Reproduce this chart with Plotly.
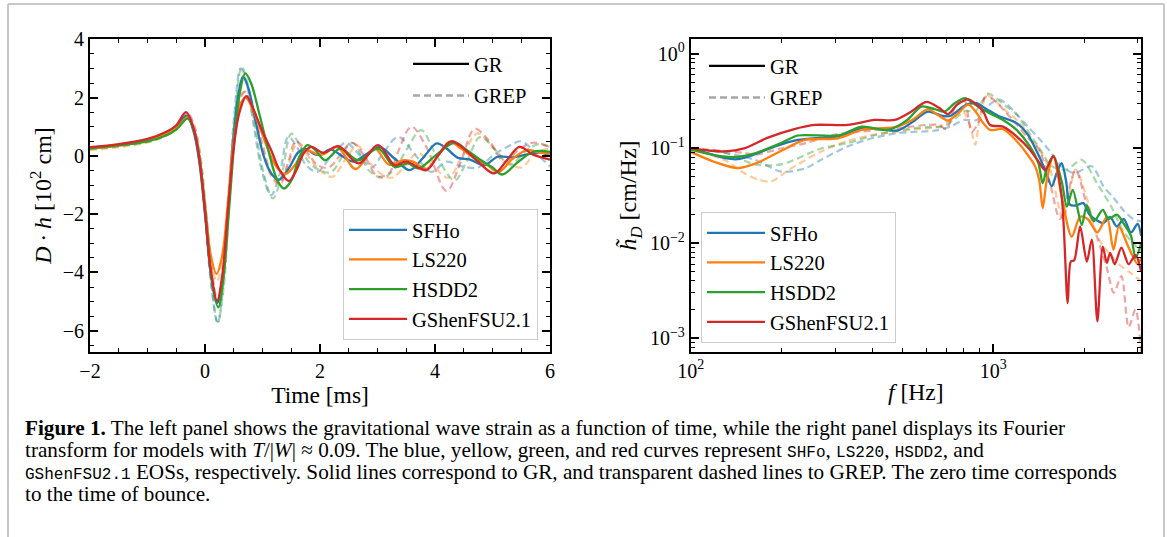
import plotly.graph_objects as go

# ---------------- data: left panel (strain vs time) ----------------
names = ["SFHo", "LS220", "HSDD2", "GShenFSU2.1"]
colors = ["#1f77b4", "#ff7f0e", "#2ca02c", "#d62728"]
colors_a = ["rgba(31,119,180,0.42)", "rgba(255,127,14,0.42)", "rgba(44,160,44,0.42)", "rgba(214,39,40,0.42)"]

t_gr_sfho = [-2, -1.5, -1, -0.7, -0.5, -0.32, -0.2, -0.1, 0.0, 0.1, 0.21, 0.3, 0.4, 0.5, 0.58, 0.66, 0.75, 0.88, 1.02, 1.15, 1.28, 1.45, 1.62, 1.74, 1.9, 2.0, 2.18, 2.38, 2.58, 2.8, 3.04, 3.3, 3.56, 3.8, 4.03, 4.2, 4.4, 4.6, 4.86, 5.09, 5.35, 5.67, 5.85, 6.0]
h_gr_sfho = [0.28, 0.38, 0.55, 0.75, 0.98, 1.38, 0.85, -0.2, -2.0, -4.0, -5.05, -4.3, -1.9, 0.7, 2.1, 2.72, 2.35, 1.2, 0.0, -0.6, -0.82, -0.45, 0.12, 0.24, 0.06, 0.03, 0.22, 0.0, -0.2, 0.05, 0.3, -0.1, -0.49, -0.05, 0.43, 0.25, -0.07, -0.12, -0.32, -0.03, -0.05, 0.08, 0.12, -0.02]

t_gr_ls220 = [-2, -1.5, -1, -0.7, -0.5, -0.3, -0.2, -0.1, 0.0, 0.1, 0.2, 0.3, 0.4, 0.5, 0.6, 0.7, 0.8, 0.95, 1.1, 1.25, 1.4, 1.55, 1.75, 1.95, 2.05, 2.3, 2.62, 2.95, 3.2, 3.45, 3.62, 3.85, 4.05, 4.25, 4.45, 4.7, 4.9, 5.1, 5.35, 5.6, 5.8, 6.0]
h_gr_ls220 = [0.25, 0.35, 0.52, 0.72, 0.95, 1.32, 0.95, 0.0, -1.7, -3.4, -4.05, -3.4, -1.6, 0.5, 1.7, 2.0, 1.75, 1.0, 0.2, -0.4, -0.62, -0.35, 0.2, 0.05, 0.05, 0.3, -0.45, 0.25, -0.3, -0.15, -0.2, -0.45, 0.0, 0.48, 0.25, -0.1, -0.3, -0.56, -0.1, 0.2, 0.12, 0.08]

t_gr_hsdd2 = [-2, -1.5, -1, -0.7, -0.5, -0.3, -0.18, -0.08, 0.02, 0.12, 0.23, 0.32, 0.42, 0.52, 0.6, 0.7, 0.8, 0.95, 1.1, 1.25, 1.37, 1.5, 1.65, 1.78, 1.92, 2.09, 2.35, 2.67, 3.01, 3.3, 3.53, 3.71, 4.0, 4.34, 4.55, 4.8, 5.0, 5.17, 5.45, 5.72, 6.0]
h_gr_hsdd2 = [0.26, 0.36, 0.5, 0.68, 0.9, 1.28, 0.8, -0.3, -2.2, -4.3, -5.2, -4.2, -1.8, 0.7, 2.1, 2.83, 2.5, 1.4, 0.2, -0.8, -1.12, -0.85, 0.0, 0.37, 0.2, -0.15, 0.25, -0.15, 0.25, -0.38, -0.26, -0.43, 0.0, 0.45, 0.2, -0.15, -0.4, -0.64, -0.2, 0.15, 0.14]

t_gr_gshen = [-2, -1.5, -1, -0.7, -0.5, -0.33, -0.2, -0.1, 0.0, 0.1, 0.21, 0.3, 0.4, 0.5, 0.6, 0.72, 0.82, 0.99, 1.15, 1.3, 1.46, 1.6, 1.72, 1.85, 2.06, 2.32, 2.67, 3.01, 3.3, 3.5, 3.85, 4.05, 4.28, 4.5, 4.75, 5.03, 5.25, 5.47, 5.7, 6.0]
h_gr_gshen = [0.3, 0.4, 0.58, 0.8, 1.05, 1.5, 0.95, -0.1, -1.9, -3.9, -4.97, -4.1, -1.8, 0.3, 1.5, 2.05, 1.7, 0.88, 0.2, -0.5, -0.86, -0.45, 0.1, 0.31, 0.1, 0.33, -0.26, 0.37, -0.32, -0.2, -0.49, 0.0, 0.5, 0.25, -0.2, -0.6, -0.15, 0.31, 0.05, -0.13]

t_ep_sfho = [-2, -1.5, -1, -0.7, -0.5, -0.3, -0.2, -0.1, 0.0, 0.1, 0.22, 0.3, 0.4, 0.5, 0.62, 0.72, 0.85, 1.0, 1.15, 1.3, 1.45, 1.6, 1.75, 1.95, 2.2, 2.45, 2.7, 2.9, 3.1, 3.36, 3.65, 3.93, 4.2, 4.45, 4.75, 5.0, 5.25, 5.5, 5.75, 6.0]
h_ep_sfho = [0.24, 0.34, 0.5, 0.7, 0.95, 1.35, 1.0, 0.0, -2.0, -4.3, -5.75, -4.8, -1.9, 1.2, 3.0, 2.5, 1.0, -0.6, -1.35, -0.6, 0.65, 0.3, -0.3, -0.55, 0.0, 0.45, 0.0, -0.4, 0.1, 0.65, 0.05, -0.55, -0.2, -0.35, -0.4, 0.0, 0.3, 0.5, 0.1, -0.37]

t_ep_ls220 = [-2, -1.5, -1, -0.7, -0.5, -0.3, -0.2, -0.1, 0.0, 0.1, 0.21, 0.3, 0.4, 0.5, 0.6, 0.7, 0.82, 1.0, 1.15, 1.3, 1.45, 1.6, 1.75, 1.95, 2.21, 2.45, 2.65, 2.85, 3.05, 3.25, 3.5, 3.7, 3.95, 4.23, 4.5, 4.74, 5.0, 5.25, 5.5, 5.75, 6.0]
h_ep_ls220 = [0.2, 0.3, 0.46, 0.66, 0.9, 1.3, 0.9, -0.05, -1.8, -3.6, -4.3, -3.6, -1.5, 0.8, 2.0, 2.2, 1.5, 0.2, -0.7, -1.0, -0.3, 0.4, 0.1, -0.4, -0.72, -0.1, 0.35, -0.2, -0.6, -0.75, -0.3, 0.1, -0.3, -0.75, 0.1, 0.77, 0.3, -0.2, -0.4, 0.1, 0.25]

t_ep_hsdd2 = [-2, -1.5, -1, -0.7, -0.5, -0.3, -0.2, -0.1, 0.0, 0.1, 0.22, 0.32, 0.42, 0.52, 0.64, 0.75, 0.88, 1.02, 1.18, 1.33, 1.5, 1.65, 1.8, 2.0, 2.2, 2.56, 2.85, 3.1, 3.35, 3.5, 3.76, 4.0, 4.34, 4.55, 4.79, 5.05, 5.3, 5.6, 5.8, 6.0]
h_ep_hsdd2 = [0.23, 0.33, 0.48, 0.68, 0.92, 1.3, 0.95, 0.0, -1.9, -4.2, -5.7, -4.6, -1.6, 1.4, 3.05, 2.4, 0.9, -0.6, -1.46, -0.7, 0.76, 0.35, -0.2, -0.5, -0.55, 0.45, -0.5, -0.75, -0.3, 0.2, 0.88, 0.1, -0.84, -0.2, 0.65, 0.2, -0.3, 0.2, 0.4, 0.3]

t_ep_gshen = [-2, -1.5, -1, -0.7, -0.5, -0.3, -0.18, -0.08, 0.02, 0.12, 0.22, 0.32, 0.42, 0.52, 0.62, 0.7, 0.82, 1.0, 1.15, 1.3, 1.45, 1.58, 1.75, 1.95, 2.15, 2.56, 2.8, 3.0, 3.2, 3.35, 3.59, 3.85, 4.2, 4.45, 4.69, 4.95, 5.2, 5.45, 5.7, 6.0]
h_ep_gshen = [0.27, 0.37, 0.55, 0.77, 1.02, 1.45, 1.0, 0.0, -1.9, -3.9, -5.0, -4.0, -1.5, 0.8, 2.0, 2.2, 1.6, 0.4, -0.6, -0.95, -0.2, 0.5, 0.2, -0.3, -0.4, 0.45, -0.1, -0.7, -0.6, 0.1, 1.0, 0.3, -1.2, -0.2, 0.92, 0.5, -0.2, 0.2, 0.45, 0.3]

# ---------------- data: right panel (Fourier amplitude) ----------------
f_gr_sfho = [100, 115, 130, 143, 160, 190, 226, 270, 307, 367, 420, 484, 540, 608, 680, 720, 815, 881, 950, 1040, 1194, 1300, 1409, 1480, 1560, 1620, 1682, 1740, 1790, 1880, 1983, 2080, 2311, 2430, 2560, 2700, 2850, 3000, 3080]
a_gr_sfho = [0.10, 0.088, 0.079, 0.077, 0.085, 0.105, 0.123, 0.13, 0.134, 0.164, 0.16, 0.155, 0.19, 0.245, 0.22, 0.22, 0.29, 0.30, 0.26, 0.22, 0.185, 0.14, 0.086, 0.06, 0.04, 0.055, 0.07, 0.045, 0.0255, 0.025, 0.0265, 0.02, 0.0163, 0.019, 0.015, 0.018, 0.013, 0.016, 0.012]

f_gr_ls220 = [100, 120, 143, 165, 200, 238, 307, 367, 472, 540, 608, 650, 708, 760, 826, 870, 927, 975, 1077, 1194, 1288, 1374, 1420, 1456, 1500, 1579, 1682, 1816, 1936, 2050, 2207, 2372, 2495, 2600, 2800, 3000, 3080]
a_gr_ls220 = [0.092, 0.072, 0.062, 0.07, 0.095, 0.123, 0.128, 0.157, 0.168, 0.2, 0.26, 0.23, 0.197, 0.23, 0.29, 0.25, 0.185, 0.157, 0.16, 0.12, 0.089, 0.065, 0.045, 0.0234, 0.045, 0.083, 0.031, 0.0117, 0.019, 0.018, 0.013, 0.019, 0.0085, 0.015, 0.009, 0.006, 0.007]

f_gr_hsdd2 = [100, 120, 140, 165, 200, 226, 307, 367, 449, 520, 578, 640, 691, 745, 806, 870, 962, 1077, 1194, 1321, 1409, 1456, 1500, 1579, 1682, 1750, 1830, 1960, 2037, 2150, 2300, 2400, 2560, 2700, 2850, 2950, 3080]
a_gr_hsdd2 = [0.097, 0.085, 0.081, 0.09, 0.115, 0.137, 0.137, 0.17, 0.157, 0.2, 0.277, 0.26, 0.245, 0.3, 0.34, 0.29, 0.24, 0.2, 0.157, 0.105, 0.07, 0.043, 0.06, 0.083, 0.045, 0.0244, 0.0366, 0.0156, 0.025, 0.017, 0.0225, 0.018, 0.02, 0.016, 0.012, 0.007, 0.01]

f_gr_gshen = [100, 115, 130, 150, 180, 220, 257, 330, 405, 472, 530, 601, 660, 708, 760, 826, 880, 927, 975, 1077, 1194, 1321, 1409, 1483, 1579, 1682, 1761, 1803, 1850, 1936, 2037, 2115, 2207, 2300, 2372, 2432, 2520, 2650, 2800, 2950, 3080]
a_gr_gshen = [0.10, 0.095, 0.093, 0.10, 0.13, 0.16, 0.177, 0.177, 0.2, 0.2, 0.24, 0.31, 0.27, 0.23, 0.29, 0.33, 0.29, 0.245, 0.177, 0.17, 0.134, 0.097, 0.073, 0.059, 0.083, 0.031, 0.00233, 0.0064, 0.0066, 0.015, 0.0064, 0.0109, 0.0015, 0.0092, 0.0062, 0.0079, 0.006, 0.009, 0.006, 0.0075, 0.005]

f_ep_sfho = [100, 130, 163, 199, 240, 270, 330, 405, 484, 560, 650, 720, 800, 881, 960, 1040, 1100, 1194, 1300, 1409, 1540, 1682, 1850, 2115, 2311, 2500, 2700, 2900, 3080]
a_ep_sfho = [0.10, 0.09, 0.076, 0.057, 0.062, 0.076, 0.105, 0.13, 0.145, 0.15, 0.155, 0.17, 0.2, 0.2, 0.28, 0.33, 0.30, 0.23, 0.17, 0.13, 0.093, 0.065, 0.055, 0.065, 0.04, 0.03, 0.022, 0.018, 0.017]

f_ep_ls220 = [100, 130, 150, 167, 185, 210, 270, 330, 405, 480, 560, 650, 720, 790, 840, 871, 900, 951, 1000, 1100, 1194, 1288, 1409, 1540, 1700, 1870, 2037, 2200, 2400, 2600, 2800, 3080]
a_ep_ls220 = [0.098, 0.075, 0.055, 0.047, 0.045, 0.059, 0.093, 0.12, 0.14, 0.15, 0.16, 0.168, 0.2, 0.25, 0.17, 0.109, 0.2, 0.37, 0.33, 0.25, 0.2, 0.15, 0.1, 0.06, 0.018, 0.06, 0.03, 0.012, 0.008, 0.006, 0.005, 0.004]

f_ep_hsdd2 = [100, 130, 163, 199, 270, 330, 405, 520, 600, 680, 740, 806, 870, 962, 1030, 1100, 1194, 1288, 1409, 1560, 1750, 1960, 2200, 2450, 2700, 2900, 3080]
a_ep_hsdd2 = [0.10, 0.09, 0.068, 0.068, 0.10, 0.114, 0.138, 0.16, 0.168, 0.17, 0.2, 0.25, 0.245, 0.38, 0.33, 0.28, 0.23, 0.16, 0.105, 0.065, 0.06, 0.076, 0.043, 0.0245, 0.013, 0.01, 0.008]

f_ep_gshen = [100, 125, 150, 163, 199, 240, 300, 360, 440, 520, 600, 660, 700, 750, 800, 849, 900, 940, 1000, 1100, 1194, 1288, 1409, 1540, 1660, 1870, 2037, 2200, 2372, 2500, 2650, 2800, 2950, 3080]
a_ep_gshen = [0.10, 0.095, 0.09, 0.086, 0.10, 0.114, 0.14, 0.15, 0.16, 0.168, 0.177, 0.177, 0.16, 0.28, 0.33, 0.15, 0.2, 0.35, 0.33, 0.24, 0.18, 0.134, 0.10, 0.043, 0.018, 0.059, 0.025, 0.0117, 0.0055, 0.003, 0.0045, 0.0013, 0.002, 0.0007]

left_t_gr = [t_gr_sfho, t_gr_ls220, t_gr_hsdd2, t_gr_gshen]
left_h_gr = [h_gr_sfho, h_gr_ls220, h_gr_hsdd2, h_gr_gshen]
left_t_ep = [t_ep_sfho, t_ep_ls220, t_ep_hsdd2, t_ep_gshen]
left_h_ep = [h_ep_sfho, h_ep_ls220, h_ep_hsdd2, h_ep_gshen]
right_f_gr = [f_gr_sfho, f_gr_ls220, f_gr_hsdd2, f_gr_gshen]
right_a_gr = [a_gr_sfho, a_gr_ls220, a_gr_hsdd2, a_gr_gshen]
right_f_ep = [f_ep_sfho, f_ep_ls220, f_ep_hsdd2, f_ep_gshen]
right_a_ep = [a_ep_sfho, a_ep_ls220, a_ep_hsdd2, a_ep_gshen]

left_xticks = [-2, 0, 2, 4, 6]
left_yticks = [-6, -4, -2, 0, 2, 4]
right_xticks = [100, 1000]
right_yticks = [0.001, 0.01, 0.1, 1]

# ---------------- figure ----------------
W, H = 1167, 537
SERIF = "Liberation Serif"
MONO = "Liberation Mono"
DASH = "7px,4px"

fig = go.Figure()

def px_x(p):
    return p / W

def px_y(p):
    return 1 - p / H

for i in range(4):
    fig.add_trace(go.Scatter(x=left_t_ep[i], y=left_h_ep[i], mode="lines", line=dict(color=colors_a[i], width=2.2, dash=DASH, shape="spline", smoothing=1.0), showlegend=False, xaxis="x", yaxis="y", hoverinfo="skip"))
    fig.add_trace(go.Scatter(x=right_f_ep[i], y=right_a_ep[i], mode="lines", line=dict(color=colors_a[i], width=2.2, dash=DASH, shape="spline", smoothing=0.8), showlegend=False, xaxis="x2", yaxis="y2", hoverinfo="skip"))
for i in range(4):
    fig.add_trace(go.Scatter(x=left_t_gr[i], y=left_h_gr[i], mode="lines", name=names[i], line=dict(color=colors[i], width=2.3, shape="spline", smoothing=1.0), legend="legend", legendgroup="l" + str(i), xaxis="x", yaxis="y", hoverinfo="skip"))
for i in range(4):
    fig.add_trace(go.Scatter(x=right_f_gr[i], y=right_a_gr[i], mode="lines", name=names[i], line=dict(color=colors[i], width=2.3, shape="spline", smoothing=0.8), legend="legend3", legendgroup="r" + str(i), xaxis="x2", yaxis="y2", hoverinfo="skip"))

for lg, xa, ya, pre in [("legend2", "x", "y", "a"), ("legend4", "x2", "y2", "b")]:
    fig.add_trace(go.Scatter(x=[None], y=[None], mode="lines", name="GR", line=dict(color="black", width=2.3), legend=lg, legendgroup=pre + "gr", xaxis=xa, yaxis=ya))
    fig.add_trace(go.Scatter(x=[None], y=[None], mode="lines", name="GREP", line=dict(color="rgba(128,128,128,0.7)", width=2.3, dash=DASH), legend=lg, legendgroup=pre + "ep", xaxis=xa, yaxis=ya))

ydom = [px_y(351.7), px_y(39.3)]
tickfont = dict(family=SERIF, size=20, color="black")
titlefont = dict(family=SERIF, size=23.5, color="black")
ytitlefont = dict(family=SERIF, size=24, color="black")
legfont = dict(family=SERIF, size=20.5, color="black")
common = dict(showline=True, linecolor="black", linewidth=1.8, mirror="allticks", ticks="inside", ticklen=8, tickwidth=1.5,
              tickcolor="black", showgrid=False, zeroline=False, tickfont=tickfont, automargin=False)
minor_common = dict(ticks="inside", ticklen=4, tickwidth=1.2, tickcolor="black", showgrid=False)

def fmt(v):
    return ("\u2212" + str(-v)) if v < 0 else str(v)

fig.update_layout(
    width=W, height=H, margin=dict(l=0, r=0, t=0, b=0, pad=0, autoexpand=False),
    paper_bgcolor="white", plot_bgcolor="white",
    xaxis=dict(domain=[px_x(90), px_x(550)], range=[-2, 6], tickvals=left_xticks, ticktext=[fmt(v) for v in left_xticks],
               minor=dict(dtick=0.5, **minor_common),
               title=dict(text="Time [ms]", font=titlefont, standoff=3), anchor="y", **common),
    yaxis=dict(domain=ydom, range=[-6.72, 4.0], tickvals=left_yticks, ticktext=[fmt(v) for v in left_yticks],
               minor=dict(dtick=0.5, **minor_common),
               title=dict(text="<i>D</i>\u2009\u00b7\u2009<i>h</i> [10<sup>2</sup> cm]", font=ytitlefont, standoff=4), anchor="x", **common),
    xaxis2=dict(domain=[px_x(690.7), px_x(1141)], type="log", range=[2, 3.488], tickvals=right_xticks,
                ticktext=["10<sup>2</sup>", "10<sup>3</sup>"],
                minor=dict(tickvals=[200, 300, 400, 500, 600, 700, 800, 900, 2000, 3000], **minor_common),
                title=dict(text="<i>f</i> [Hz]", font=titlefont, standoff=3), anchor="y2", **common),
    yaxis2=dict(domain=ydom, type="log", range=[-3.145, 0.152], tickvals=right_yticks,
                ticktext=["10<sup>\u22123</sup>", "10<sup>\u22122</sup>", "10<sup>\u22121</sup>", "10<sup>0</sup>"],
                minor=dict(tickvals=[0.0008, 0.0009] + [k * 0.001 for k in range(2, 10)] + [k * 0.01 for k in range(2, 10)] + [k * 0.1 for k in range(2, 10)], **minor_common),
                title=dict(text="<i>h\u0303</i><sub><i>D</i></sub> [cm/Hz]", font=ytitlefont, standoff=6), anchor="x2", **common),
    legend=dict(x=px_x(538), xanchor="right", y=px_y(340), yanchor="bottom", font=legfont,
                bgcolor="rgba(255,255,255,0.8)", bordercolor="#cccccc", borderwidth=1, tracegroupgap=0, itemwidth=58),
    legend2=dict(x=px_x(408), xanchor="left", y=px_y(44), yanchor="top", font=legfont,
                 bgcolor="rgba(255,255,255,0)", borderwidth=0, tracegroupgap=2, itemwidth=56),
    legend3=dict(x=px_x(701), xanchor="left", y=px_y(343), yanchor="bottom", font=legfont,
                 bgcolor="rgba(255,255,255,0.8)", bordercolor="#cccccc", borderwidth=1, tracegroupgap=0, itemwidth=58),
    legend4=dict(x=px_x(704), xanchor="left", y=px_y(46), yanchor="top", font=legfont,
                 bgcolor="rgba(255,255,255,0)", borderwidth=0, tracegroupgap=2, itemwidth=56),
)

frame = "#c8c8c8"
for x0, y0, x1, y1 in [(8, 4, 1164, 4), (8, 4, 8, 537), (1164, 4, 1164, 537)]:
    fig.add_shape(type="line", xref="paper", yref="paper", x0=px_x(x0), y0=px_y(y0), x1=px_x(x1), y1=px_y(y1),
                  line=dict(color=frame, width=2))

def mono(s):
    return '<span style="font-family:' + MONO + ';font-size:16px">' + s + '</span>'

caption = [
    "<b>Figure 1.</b> The left panel shows the gravitational wave strain as a function of time, while the right panel displays its Fourier",
    "transform for models with <i>T</i>/|<i>W</i>| \u2248 0.09. The blue, yellow, green, and red curves represent " + mono("SHFo") + ", " + mono("LS220") + ", " + mono("HSDD2") + ", and",
    mono("GShenFSU2.1") + " EOSs, respectively. Solid lines correspond to GR, and transparent dashed lines to GREP. The zero time corresponds",
    "to the time of bounce.",
]
for k, line in enumerate(caption):
    fig.add_annotation(text=line, xref="paper", yref="paper", x=px_x(23), y=px_y(428 + 22 * k), xanchor="left", yanchor="middle",
                       showarrow=False, font=dict(family=SERIF, size=21.2, color="black"), align="left")

fig.write_html("out.html")
